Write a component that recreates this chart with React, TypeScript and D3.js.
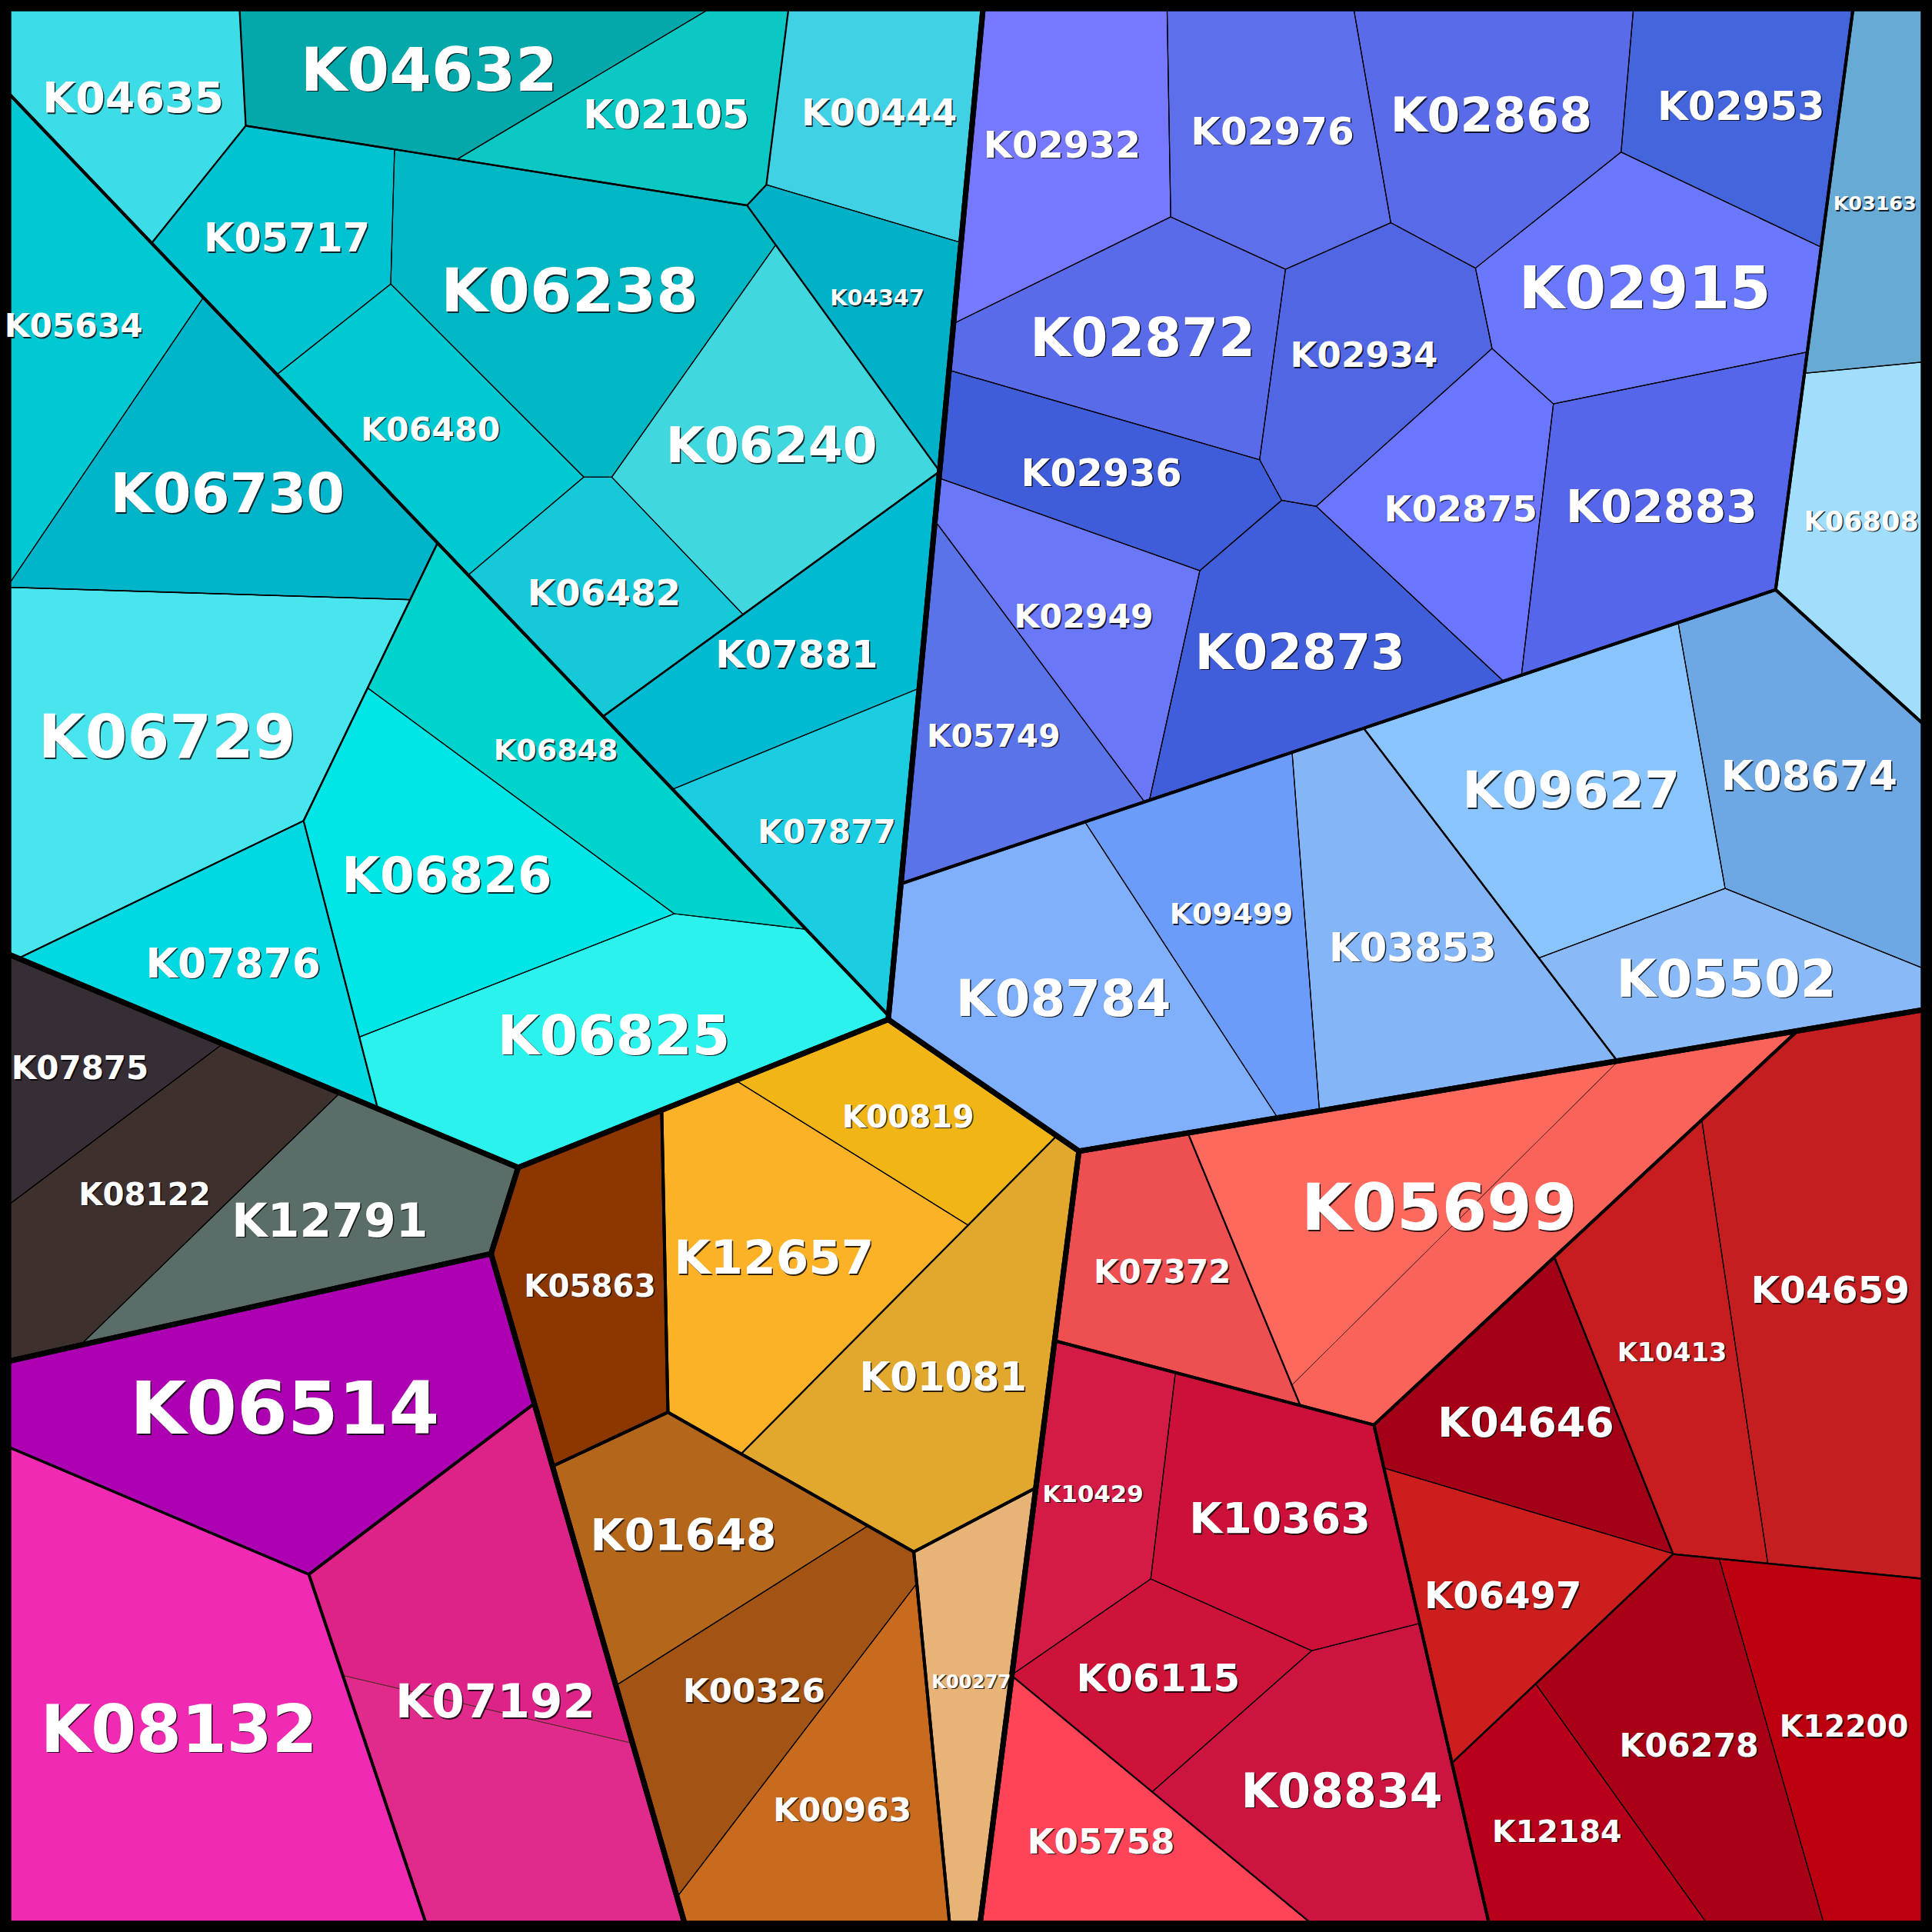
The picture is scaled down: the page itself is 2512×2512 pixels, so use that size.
import React, { useMemo } from "react";
import * as d3 from "d3";

const SIZE = 2512;
const REF = 1568;

// ---- data (reference frame 0..1568) ----
const leafNames = [
  "K04635","K04632","K02105","K00444","K05717","K06238","K04347","K06480","K06240","K06482","K07881","K07877",
  "K05634","K06730","K06729","K06848","K06826","K07876","K06825",
  "K07875","K08122","K12791",
  "K06514","K08132","K07192-a","K07192-b",
  "K00819","K12657","K01081","K05863","K01648","K00326","K00963","K00277",
  "K07372","K05699-a","K05699-b",
  "K04659","K10413","K04646","K06497","K06278","K12200","K12184",
  "K10429","K10363","K06115","K05758","K08834",
  "K02932","K02976","K02868","K02953","K02872","K02934","K02915","K02936","K02875","K02883","K02949","K05749","K02873",
  "K03163","K06808",
  "K09627","K08674","K05502","K03853","K09499","K08784",
];
const leafGroups = [
  "cyan/C1","cyan/C1/G2","cyan/C1/G2","cyan/C1","cyan/C1/G3","cyan/C1/G3","cyan/C1","cyan/C1/G3","cyan/C1/G3","cyan/C1/G3","cyan/C1/G4","cyan/C1/G4",
  "cyan/C2/L/LL","cyan/C2/L/LL","cyan/C2/L","cyan/C2/Rt","cyan/C2/Rt","cyan/C2","cyan/C2/Rt",
  "dark/D","dark/D","dark/D",
  "magenta","magenta","magenta/K07192","magenta/K07192",
  "orange/O1/O1a","orange/O1/O1a","orange/O1","orange/O2","orange/O3","orange/O3","orange/O3","orange/O4",
  "red/R1","red/R1/K05699","red/R1/K05699",
  "red/R2/A","red/R2/A","red/R2/Bg","red/R2/Bg","red/R2/Cg","red/R2/Cg","red/R2/Cg",
  "red/R3/X","red/R3/X","red/R3/X","red/R3","red/R3/X",
  "blue/B1","blue/B1","blue/B1","blue/B1","blue/B1","blue/B1","blue/B1","blue/B1","blue/B1","blue/B1","blue/B1","blue/B1","blue/B1",
  "blue/B2a","blue/B2a",
  "blue/B2b/Q","blue/B2b/Q","blue/B2b/Q","blue/B2b/P","blue/B2b/P","blue/B2b/P",
];
const leafValues = [
  25.6,31.3,24.2,26.6,25.7,50.0,18.0,26.7,39.7,22.6,30.5,25.5,
  31.4,45.7,65.9,34.6,42.7,30.3,49.7,
  17.6,31.2,31.9,
  66.3,94.7,39.5,37.0,
  20.2,44.5,44.5,29.9,29.3,30.7,32.4,20.0,
  26.2,38.1,32.4,
  66.7,33.3,27.9,26.1,37.6,35.0,22.5,
  22.3,34.7,21.0,26.9,41.4,
  34.0,31.7,35.6,27.0,32.9,27.5,37.9,24.2,27.8,41.0,25.1,28.1,36.3,
  22.2,25.9,
  47.1,41.6,26.3,45.3,29.5,50.2,
];
const leafSiteX = [
  153.7,392.8,495.2,641.3,266.2,461,610.7,354.9,600.2,461,628.2,688.8,
  60,184.2,122.3,453,375.9,248.6,425.6,
  44.9,117,221.5,
  230,132.4,387,352.8,
  707.3,628,802,479,542.4,612,699.4,788,
  943,1110,1215.7,
  1491.2,1352.8,1249.4,1209.6,1371,1486.3,1273.4,
  891.1,1040,986.4,840.7,1104,
  837.4,1012.8,1240.2,1473.8,927.6,1106,1392.5,886.2,1222.2,1436.2,834.7,714.4,1051.7,
  1505.1,1527.9,
  1276,1463.1,1359.5,1150.6,1001,875.3,
];
const leafSiteY = [
  85.4,-12.4,159.4,88.5,228.5,234,191.4,340.1,332.3,465.3,527.5,675.5,
  268,352.2,579.9,610,714.7,725.2,841.6,
  873.1,969,1076.6,
  1143,1373.2,1294,1440,
  893.6,1021,1120.9,1044,1263.2,1373,1439.8,1365,
  1033,970,1076.5,
  1063.2,1083.8,1158.4,1292.6,1416,1382.9,1485.8,
  1214.2,1232,1352.2,1482.6,1485.1,
  79.2,76.1,36.7,56.8,262.8,287,227.9,406.4,416.4,441.6,551.4,641.1,599,
  176,415,
  641,607.9,864.5,732.6,744,825.9,
];
const leafColors = [
  "#3CDDE6","#03A9AA","#0CC8C4","#40D1E5","#00C3D2","#00B8C4","#00B1C8","#00C9D2","#40D8DE","#16C8D8","#00BAD2","#1CCDE2",
  "#00C9D3","#00B5CA","#48E5EE","#00D3CB","#00E6E6","#00D9E2","#2BF2EC",
  "#372D35","#3E302D","#5A6D69",
  "#AE00B3","#F02AB2","#DD2288","#E12B8C",
  "#F2B516","#FBB227","#E2A82D","#8C3600","#B4661B","#A35414","#C86B1E","#E8B376",
  "#EE4F50","#FE695D","#FA635A",
  "#C41E21","#C81D1E","#A30018","#CB1E1D","#A80014","#BC0010","#B9001B",
  "#D41B46","#CC103A","#CE1338","#FF4457","#CC1440",
  "#7679FE","#5E6FEC","#5A6BE9","#4565DC","#5A6BE9","#5066E2","#6A78FE","#405DD9","#6A76FE","#5566EA","#6A78F8","#5B73E8","#405ED9",
  "#67AAD3","#A1DEFB",
  "#89C4FC","#6DA8E4","#8AB9F8","#84B5F6","#6B9CFA","#80AFFC",
];
// sites of the nesting levels (reference frame)
const groupIds = [
  "cyan","blue","orange","red","dark","magenta",
  "cyan/C1","cyan/C2","cyan/C1/G2","cyan/C1/G3","cyan/C1/G4","cyan/C2/L","cyan/C2/L/LL","cyan/C2/Rt",
  "blue/B1","blue/B2a","blue/B2b","blue/B2b/P","blue/B2b/Q",
  "orange/O1","orange/O2","orange/O3","orange/O4","orange/O1/O1a",
  "red/R1","red/R2","red/R3","red/R1/K05699","red/R2/A","red/R2/Bg","red/R2/Cg","red/R3/X",
  "magenta/K07192",
];
const groupSiteX = [
  330,900.5,552.9,994.3,149.8,200.7,
  450,233,479.2,440,616.6,140,130,482.2,
  1100,1521.2,1227.4,1000,1290.3,
  700,477,576.5,802.7,660,
  1120,1328.7,1043.5,1127.9,1440,1235.7,1413.4,1000,
  349.3,
];
const groupSiteY = [
  380,433.5,937.1,993.6,810.4,1038.9,
  250,457,68.1,315,557.6,500,330,665,
  300,356.1,679.1,780,558.8,
  1030,1034.6,1247.4,1225.6,980,
  1000,1224.3,1290.1,956.7,1060,1141.7,1329.9,1290,
  1300.4,
];
const labelNames = [
  "K04635","K04632","K02105","K00444","K05717","K06238","K04347","K06480","K06240","K06482","K07881","K07877",
  "K05634","K06730","K06729","K06848","K06826","K07876","K06825",
  "K07875","K08122","K12791",
  "K06514","K08132","K07192",
  "K00819","K12657","K01081","K05863","K01648","K00326","K00963","K00277",
  "K07372","K05699",
  "K04659","K10413","K04646","K06497","K06278","K12200","K12184",
  "K10429","K10363","K06115","K05758","K08834",
  "K02932","K02976","K02868","K02953","K02872","K02934","K02915","K02936","K02875","K02883","K02949","K05749","K02873",
  "K03163","K06808",
  "K09627","K08674","K05502","K03853","K09499","K08784",
];
const labelScores = [
  33.8,47.9,31,29,31,48,17.6,26,39.4,28.6,30.3,25.8,
  25.8,43.7,48,23.2,39.2,32.6,43.4,
  25.6,24.6,36.6,
  57.7,51.6,37.3,
  24.6,37.3,31.2,24.6,34.7,26.5,25.8,14.8,
  25.6,51.4,
  29.6,20.4,32.9,29.3,26,24,24.2,
  18.8,33.8,30.5,27.5,37.6,
  29.3,30.5,37.6,31.2,42,27.5,47,30,28.6,35.7,26,24.9,39.2,
  15.5,21.4,
  40.6,32.9,41,31.2,23,40.1,
];

type Pt = [number, number];
interface TNode {
  id: string;
  name: string;
  depth: number;
  children: TNode[];
  parent?: TNode;
  value: number;
  site: Pt;
  color?: string;
  polygon?: Pt[];
}

const sc = d3.scaleLinear().domain([0, REF]).range([0, SIZE]);
const fontScale = d3.scaleLinear().domain([0, 100]).range([0, 164]);

function clip(poly: Pt[], ax: number, ay: number, b: number): Pt[] {
  const out: Pt[] = [];
  const n = poly.length;
  for (let i = 0; i < n; i++) {
    const P = poly[i], Q = poly[(i + 1) % n];
    const fp = ax * P[0] + ay * P[1] - b;
    const fq = ax * Q[0] + ay * Q[1] - b;
    if (fp <= 0) out.push(P);
    if ((fp < 0 && fq > 0) || (fp > 0 && fq < 0)) {
      const t = fp / (fp - fq);
      out.push([P[0] + t * (Q[0] - P[0]), P[1] + t * (Q[1] - P[1])]);
    }
  }
  return out;
}

function powerCells(parent: Pt[], sites: Pt[], w: number[]): Pt[][] {
  return sites.map((pi, i) => {
    let poly = parent;
    for (let j = 0; j < sites.length; j++) {
      if (j === i) continue;
      const pj = sites[j];
      const ax = 2 * (pj[0] - pi[0]), ay = 2 * (pj[1] - pi[1]);
      const b = pj[0] * pj[0] + pj[1] * pj[1] - pi[0] * pi[0] - pi[1] * pi[1] - w[j] + w[i];
      poly = clip(poly, ax, ay, b);
      if (poly.length < 3) return [];
    }
    return poly;
  });
}

function deriv(cell: Pt[], sites: Pt[], w: number[], i: number): number {
  if (cell.length < 3) return 0;
  const pi = sites[i];
  let s = 0;
  for (let j = 0; j < sites.length; j++) {
    if (j === i) continue;
    const pj = sites[j];
    const ax = 2 * (pj[0] - pi[0]), ay = 2 * (pj[1] - pi[1]);
    const b = pj[0] * pj[0] + pj[1] * pj[1] - pi[0] * pi[0] - pi[1] * pi[1] - w[j] + w[i];
    const na = Math.hypot(ax, ay);
    if (na < 1e-9) continue;
    for (let k = 0; k < cell.length; k++) {
      const P = cell[k], Q = cell[(k + 1) % cell.length];
      const dp = Math.abs(ax * P[0] + ay * P[1] - b) / na;
      const dq = Math.abs(ax * Q[0] + ay * Q[1] - b) / na;
      if (dp < 1e-4 && dq < 1e-4) s += Math.hypot(Q[0] - P[0], Q[1] - P[1]) / na;
    }
  }
  return s;
}

function solve(parent: Pt[], sites: Pt[], targets: number[]): Pt[][] {
  const n = sites.length;
  if (n === 1) return [parent];
  const w = new Array(n).fill(0);
  let cells = powerCells(parent, sites, w);
  for (let it = 0; it < 2000; it++) {
    let maxErr = 0;
    const deltas: number[] = [];
    for (let i = 0; i < n; i++) {
      const a = cells[i].length >= 3 ? Math.abs(d3.polygonArea(cells[i])) : 0;
      const e = targets[i] - a;
      maxErr = Math.max(maxErr, Math.abs(e) / targets[i]);
      const D = deriv(cells[i], sites, w, i);
      deltas.push(D > 1e-9 ? e / D : targets[i] * 0.5);
    }
    if (maxErr < 1e-5) break;
    for (let i = 0; i < n; i++) w[i] += 0.5 * deltas[i];
    cells = powerCells(parent, sites, w);
  }
  return cells;
}

function layout(node: TNode, poly: Pt[]) {
  node.polygon = poly;
  if (!node.children.length) return;
  const area = Math.abs(d3.polygonArea(poly));
  const tot = d3.sum(node.children, (c) => c.value);
  const cells = solve(
    poly,
    node.children.map((c) => c.site),
    node.children.map((c) => (c.value / tot) * area)
  );
  node.children.forEach((c, i) => layout(c, cells[i]));
}

function buildTree(): TNode {
  const root: TNode = { id: "root", name: "root", depth: 0, children: [], value: 0, site: [0, 0] };
  const map = new Map<string, TNode>();
  map.set("root", root);
  leafNames.forEach((nm, i) => {
    let parent = root;
    let path = "";
    leafGroups[i].split("/").forEach((seg) => {
      path = path ? path + "/" + seg : seg;
      let nd = map.get(path);
      if (!nd) {
        nd = { id: path, name: seg, depth: parent.depth + 1, children: [], parent, value: 0, site: [0, 0] };
        parent.children.push(nd);
        map.set(path, nd);
      }
      parent = nd;
    });
    parent.children.push({
      id: path + "/" + nm,
      name: nm,
      depth: parent.depth + 1,
      children: [],
      parent,
      value: leafValues[i],
      site: [sc(leafSiteX[i]), sc(leafSiteY[i])],
      color: leafColors[i],
    });
  });
  const agg = (n: TNode) => {
    if (!n.children.length) return;
    n.children.forEach(agg);
    n.value = d3.sum(n.children, (c) => c.value);
    const gi = groupIds.indexOf(n.id);
    n.site =
      gi >= 0
        ? [sc(groupSiteX[gi]), sc(groupSiteY[gi])]
        : [
            d3.sum(n.children, (c) => c.value * c.site[0]) / n.value,
            d3.sum(n.children, (c) => c.value * c.site[1]) / n.value,
          ];
  };
  agg(root);
  return root;
}

const isLabel = (name: string) => /^K\d{5}$/.test(name);

export default function App() {
  const { leaves, strokes, labels } = useMemo(() => {
    const root = buildTree();
    const a = sc(7), b = sc(1561);
    layout(root, [[a, a], [b, a], [b, b], [a, b]]);
    const all: TNode[] = [];
    const walk = (n: TNode) => { all.push(n); n.children.forEach(walk); };
    walk(root);
    const leaves = all.filter((n) => !n.children.length);
    const strokes = all
      .filter((n) => n.depth > 0 && n.polygon && n.polygon.length >= 3)
      .sort((p, q) => q.depth - p.depth);
    const labels = all
      .filter((n) => isLabel(n.name) && n.polygon && n.polygon.length >= 3)
      .map((n) => {
        const idx = labelNames.indexOf(n.name);
        return {
          name: n.name,
          pos: d3.polygonCentroid(n.polygon!) as Pt,
          size: fontScale(idx >= 0 ? labelScores[idx] : 25),
        };
      });
    return { leaves, strokes, labels };
  }, []);

  const line = (p: Pt[]) => "M" + p.map((q) => q[0].toFixed(2) + "," + q[1].toFixed(2)).join("L") + "Z";
  const isSub = (n: TNode) => !!(n.parent && isLabel(n.parent.name));
  const widthFor = (n: TNode) => {
    if (isSub(n)) return 0.9;
    if (!n.children.length) return n.depth <= 2 ? 3.3 : 1.2;
    return n.depth === 1 ? 7 : n.depth === 2 ? 4 : n.depth === 3 ? 2.3 : 1.6;
  };

  return (
    <svg
      width={SIZE}
      height={SIZE}
      viewBox={`0 0 ${SIZE} ${SIZE}`}
      style={{ position: "absolute", left: 0, top: 0, background: "#000" }}
    >
      <g>
        {leaves.map((n) => (
          <path key={n.id} d={line(n.polygon!)} fill={n.color} stroke={n.color} strokeWidth={0.5} />
        ))}
      </g>
      <g fill="none" strokeLinejoin="miter">
        {strokes.map((n) => (
          <path
            key={"s" + n.id}
            d={line(n.polygon!)}
            stroke={isSub(n) ? "#5a2a2a" : "#000"}
            strokeWidth={widthFor(n)}
          />
        ))}
      </g>
      <rect x={6} y={6} width={SIZE - 12} height={SIZE - 12} fill="none" stroke="#000" strokeWidth={12} />
      <g fontFamily="'DejaVu Sans', Verdana, sans-serif" fontWeight="bold" textAnchor="middle">
        {labels.map((l) => (
          <g key={"t" + l.name}>
            <text x={l.pos[0] + 1.5} y={l.pos[1] + 1.5} dy="0.36em" fontSize={l.size} fill="#000" opacity={0.8}>
              {l.name}
            </text>
            <text x={l.pos[0]} y={l.pos[1]} dy="0.36em" fontSize={l.size} fill="#fff">
              {l.name}
            </text>
          </g>
        ))}
      </g>
    </svg>
  );
}
